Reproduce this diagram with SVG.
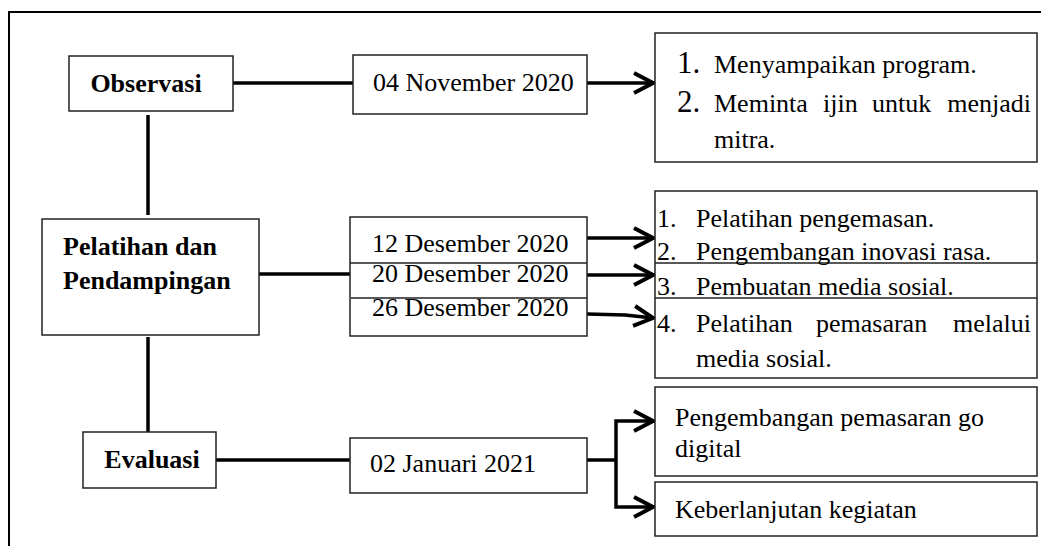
<svg xmlns="http://www.w3.org/2000/svg" width="1041" height="546" viewBox="0 0 1041 546">
<defs>
<marker id="chev" viewBox="0 0 24 24" markerWidth="24" markerHeight="24" refX="21" refY="12" orient="auto" markerUnits="userSpaceOnUse">
<path d="M2,2 L21,12 L2,22" fill="none" stroke="#000" stroke-width="4" stroke-linejoin="miter"/>
</marker>
</defs>
<style>
.box{fill:#fff;stroke:#222;stroke-width:1.5}
.t{font-family:"Liberation Serif","Times New Roman",serif;font-size:26px;fill:#000}
.b{font-weight:bold}
.num{font-size:31px}
.ln{fill:none;stroke:#000;stroke-width:3.5}
.ar{fill:none;stroke:#000;stroke-width:3.5;marker-end:url(#chev)}
.frame{fill:none;stroke:#000;stroke-width:2}
.div{stroke:#222;stroke-width:1.5}
</style>
<rect width="1041" height="546" fill="#fff"/>
<g id="frame">
<path class="frame" d="M9,546 V12 H1041"/>
</g>
<g id="connectors">
<path class="ln" d="M148,115 V215"/>
<path class="ln" d="M148,337 V432"/>
<path class="ln" d="M233,83 H353"/>
<path class="ar" d="M587,83 H653"/>
<path class="ln" d="M259,274 H351"/>
<path class="ar" d="M587,238 H653"/>
<path class="ar" d="M587,275 H653"/>
<path class="ar" d="M587,314 L625,315 L653,318"/>
<path class="ln" d="M216,460 H351"/>
<path class="ln" d="M587,460 H616"/>
<path class="ar" d="M616,460 V421 H653"/>
<path class="ar" d="M616,460 V507 H653"/>
</g>
<g id="observasi">
<rect class="box" x="69" y="56" width="164" height="55"/>
<text class="t b" x="146" y="92" text-anchor="middle">Observasi</text>
</g>
<g id="pelatihan">
<rect class="box" x="42" y="219" width="217" height="116"/>
<text class="t b" x="63" y="255">Pelatihan dan</text>
<text class="t b" x="63" y="289">Pendampingan</text>
</g>
<g id="evaluasi">
<rect class="box" x="83" y="432" width="133" height="56"/>
<text class="t b" x="152" y="468" text-anchor="middle">Evaluasi</text>
</g>
<g id="date-nov">
<rect class="box" x="353" y="55" width="234" height="59"/>
<text class="t" x="373" y="91">04 November 2020</text>
</g>
<g id="date-des">
<rect class="box" x="350" y="217" width="237" height="119"/>
<line class="div" x1="350" y1="263" x2="587" y2="263"/>
<line class="div" x1="351" y1="298" x2="587" y2="298"/>
<text class="t" x="372" y="252">12 Desember 2020</text>
<text class="t" x="372" y="282">20 Desember 2020</text>
<text class="t" x="372" y="316">26 Desember 2020</text>
</g>
<g id="date-jan">
<rect class="box" x="350" y="438" width="237" height="55"/>
<text class="t" x="370" y="472">02 Januari 2021</text>
</g>
<g id="out-observasi">
<rect class="box" x="655" y="33" width="382" height="129"/>
<text class="t num" x="677" y="73">1.</text>
<text class="t" x="714" y="73">Menyampaikan program.</text>
<text class="t num" x="677" y="112">2.</text>
<text class="t" y="112"><tspan x="714">Meminta</tspan><tspan x="823">ijin</tspan><tspan x="872">untuk</tspan><tspan x="1031" text-anchor="end">menjadi</tspan></text>
<text class="t" x="714" y="148">mitra.</text>
</g>
<g id="out-pelatihan">
<rect class="box" x="655" y="191" width="382" height="187"/>
<line class="div" x1="655" y1="263" x2="1037" y2="263"/>
<line class="div" x1="655" y1="298" x2="1037" y2="298"/>
<text class="t" x="657" y="227">1.</text>
<text class="t" x="696" y="227">Pelatihan pengemasan.</text>
<text class="t" x="657" y="260">2.</text>
<text class="t" x="696" y="260">Pengembangan inovasi rasa.</text>
<text class="t" x="657" y="295">3.</text>
<text class="t" x="696" y="295">Pembuatan media sosial.</text>
<text class="t" x="657" y="332">4.</text>
<text class="t" y="332"><tspan x="696">Pelatihan</tspan><tspan x="816">pemasaran</tspan><tspan x="1031" text-anchor="end">melalui</tspan></text>
<text class="t" x="696" y="367">media sosial.</text>
</g>
<g id="out-digital">
<rect class="box" x="655" y="387" width="382" height="89"/>
<text class="t" x="675" y="426">Pengembangan pemasaran go</text>
<text class="t" x="675" y="457">digital</text>
</g>
<g id="out-lanjut">
<rect class="box" x="655" y="482" width="382" height="54"/>
<text class="t" x="675" y="518">Keberlanjutan kegiatan</text>
</g>
</svg>
